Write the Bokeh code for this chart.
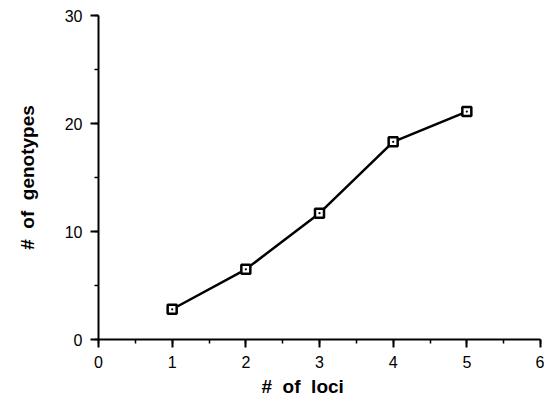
from bokeh.plotting import figure
from bokeh.models import Range1d, SingleIntervalTicker, Title
from bokeh.embed import file_html
from bokeh.resources import INLINE

loci = [1, 2, 3, 4, 5]
genotypes = [2.8, 6.5, 11.7, 18.3, 21.1]

x_title = "#\u00a0\u00a0of\u00a0\u00a0loci"
y_title = "#\u00a0\u00a0of\u00a0\u00a0genotypes"

p = figure(width=544, height=400, output_backend="svg", toolbar_location=None,
           x_range=Range1d(0, 6), y_range=Range1d(0, 30),
           min_border_left=98, min_border_right=4, min_border_top=15, min_border_bottom=61)
p.outline_line_color = None
p.xgrid.visible = False
p.ygrid.visible = False
p.background_fill_color = "white"

p.line(loci, genotypes, line_color="black", line_width=2.5)
p.scatter(loci, genotypes, marker="square_dot", size=9, line_color="black",
          line_width=2.5, fill_color="white")

p.xaxis.ticker = SingleIntervalTicker(interval=1, num_minor_ticks=2)
p.yaxis.ticker = SingleIntervalTicker(interval=10, num_minor_ticks=2)

for ax in (p.xaxis, p.yaxis):
    ax.axis_line_width = 2
    ax.axis_line_color = "black"
    ax.major_tick_line_width = 2
    ax.minor_tick_line_width = 1.5
    ax.major_tick_out = 8
    ax.major_tick_in = 0
    ax.minor_tick_out = 4
    ax.minor_tick_in = 0
    ax.major_label_text_font = "Liberation Sans"
    ax.major_label_text_font_size = "16px"
    ax.major_label_text_color = "black"
    ax.major_label_standoff = 8

p.yaxis.axis_label = y_title
p.yaxis.axis_label_text_font = "Liberation Sans"
p.yaxis.axis_label_text_font_style = "bold"
p.yaxis.axis_label_text_font_size = "19px"
p.yaxis.axis_label_text_color = "black"
p.yaxis.axis_label_standoff = 24

xt = Title(text=x_title, align="left", offset=163, text_font="Liberation Sans",
           text_font_style="bold", text_font_size="19px", text_color="black",
           standoff=6)
p.add_layout(xt, "below")

open("out.html", "w").write(file_html(p, INLINE))
